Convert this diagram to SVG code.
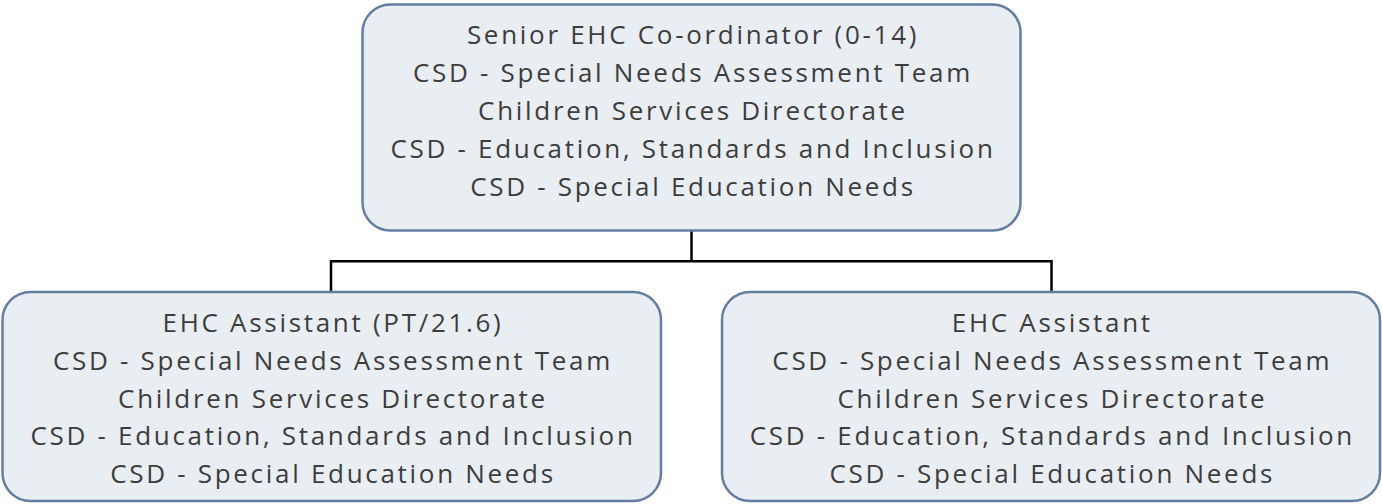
<svg xmlns="http://www.w3.org/2000/svg" width="1382" height="504" viewBox="0 0 1382 504">
<style>
.box{fill:#e9eef2;stroke:#647ea3;stroke-width:2.5}
.t{font-family:"Open Sans","Liberation Sans",sans-serif;font-size:26px;fill:#3d3d3d;text-anchor:middle;letter-spacing:2.7px}
.c{fill:none;stroke:#000;stroke-width:2.5}
</style>
<rect width="1382" height="504" fill="#fff"/>
<g id="connectors">
<path class="c" d="M691.5 231V261.3M331 291V261.3H1051.5V291"/>
</g>
<g id="node-senior">
<rect class="box" x="362.5" y="4.5" width="658" height="226" rx="28"/>
<text class="t" x="693" y="44">Senior EHC Co-ordinator (0-14)</text>
<text class="t" x="693" y="82">CSD - Special Needs Assessment Team</text>
<text class="t" x="693" y="120">Children Services Directorate</text>
<text class="t" x="693" y="157.5">CSD - Education, Standards and Inclusion</text>
<text class="t" x="693" y="195.5">CSD - Special Education Needs</text>
</g>
<g id="node-assistant-pt">
<rect class="box" x="2.5" y="292" width="658.5" height="209" rx="28"/>
<text class="t" x="333" y="331.5">EHC Assistant (PT/21.6)</text>
<text class="t" x="333" y="369.5">CSD - Special Needs Assessment Team</text>
<text class="t" x="333" y="407.5">Children Services Directorate</text>
<text class="t" x="333" y="445">CSD - Education, Standards and Inclusion</text>
<text class="t" x="333" y="483">CSD - Special Education Needs</text>
</g>
<g id="node-assistant">
<rect class="box" x="722" y="292" width="658" height="209" rx="28"/>
<text class="t" x="1052.3" y="331.5">EHC Assistant</text>
<text class="t" x="1052.3" y="369.5">CSD - Special Needs Assessment Team</text>
<text class="t" x="1052.3" y="407.5">Children Services Directorate</text>
<text class="t" x="1052.3" y="445">CSD - Education, Standards and Inclusion</text>
<text class="t" x="1052.3" y="483">CSD - Special Education Needs</text>
</g>
</svg>
